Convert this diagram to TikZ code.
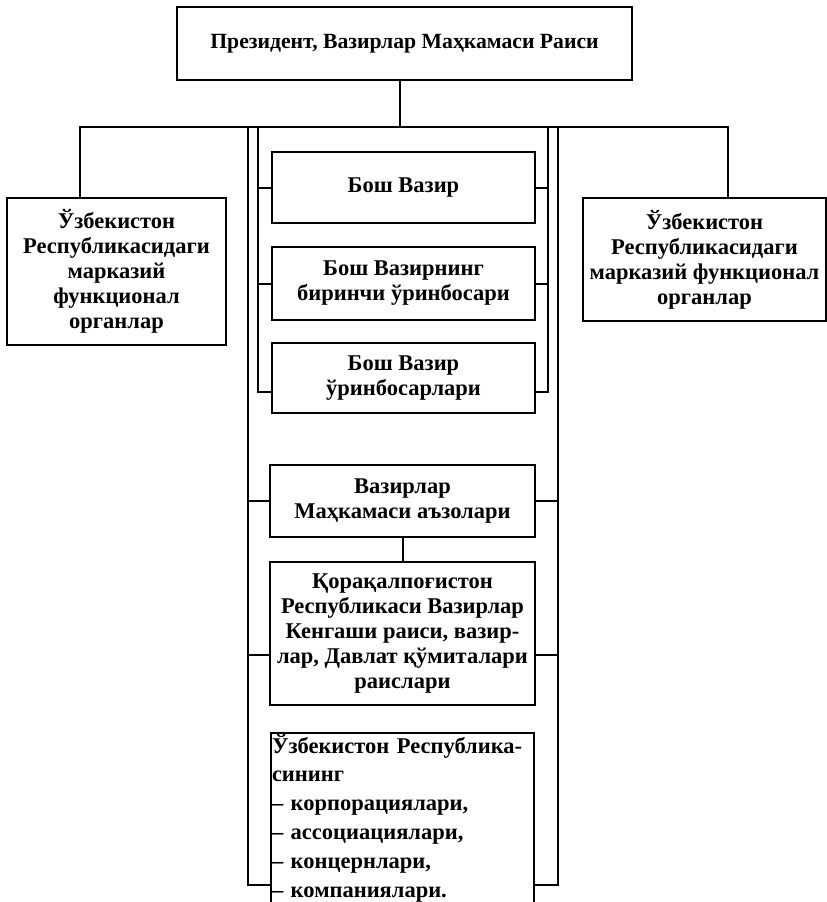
\documentclass[tikz,border=0pt]{standalone}
\usepackage{fontspec}
\setmainfont{Liberation Serif}
\usepackage{tikz}
\usetikzlibrary{positioning,calc}
\newcommand{\orgfont}{\fontsize{22.5}{25}\selectfont\bfseries}
\tikzset{
  orgbox/.style={draw, line width=2pt, align=center, font=\orgfont,
                 inner sep=1.5pt},
  listbox/.style={orgbox, align=left, anchor=north west, inner xsep=1pt,
                  inner ysep=1pt, font=\fontsize{22.5}{28.8}\selectfont\bfseries},
  wire/.style={line width=2pt}
}
\begin{document}
\begin{tikzpicture}[x=1pt, y=-1pt]
    \useasboundingbox (0,0) rectangle (827,902);
    \node[orgbox, minimum width=455pt, minimum height=73pt,
          font=\fontsize{21.7}{25}\selectfont\bfseries] (pres) at (404.5,43.5)
      {Президент, Вазирлар Маҳкамаси Раиси};
    \node[orgbox, minimum width=219pt, minimum height=147pt] (leftorg) at (116.5,271.5)
      {Ўзбекистон\\Республикасидаги\\марказий\\функционал\\органлар};
    \node[orgbox, minimum width=243pt, minimum height=123pt, inner xsep=0pt] (rightorg) at (704.5,259.5)
      {Ўзбекистон\\Республикасидаги\\марказий функционал\\органлар};
    \node[orgbox, minimum width=263pt, minimum height=71pt] (pm) at (403.5,187.5) {Бош Вазир};
    \node[orgbox, minimum width=263pt, minimum height=73pt] (first) at (403.5,283.5)
      {Бош Вазирнинг\\биринчи ўринбосари};
    \node[orgbox, minimum width=263pt, minimum height=70pt] (dep) at (403.5,378)
      {Бош Вазир\\ўринбосарлари};
    \node[orgbox, minimum width=265pt, minimum height=72pt] (mem) at (402.5,501)
      {Вазирлар\\Маҳкамаси аъзолари};
    \node[orgbox, minimum width=265pt, minimum height=143pt] (kk) at (402.5,633.5)
      {Қорақалпоғистон\\Республикаси Вазирлар\\Кенгаши раиси, вазир-\\лар, Давлат қўмиталари\\раислари};
    \node[listbox, text width=261pt, text depth=190pt] (corp) at (270,732)
      {Ўзбекистон Республика-\\сининг\\– корпорациялари,\\– ассоциациялари,\\– концернлари,\\– компаниялари.};
    \coordinate (hub) at (400,127);
    \coordinate (lend) at (80,127);
    \coordinate (rend) at (728,127);
    \coordinate (ol) at (248,127);
    \coordinate (il) at (258,127);
    \coordinate (ir) at (548,127);
    \coordinate (or) at (558,127);
    \draw[wire] (hub |- pres.south) -- (hub);
    \draw[wire] (lend |- leftorg.north) -- (lend) -- (rend) -- (rend |- rightorg.north);
    \draw[wire] (il) |- ([yshift=-14pt]dep.west);
    \draw[wire] (ir) |- ([yshift=-14pt]dep.east);
    \draw[wire] (il |- pm.west) -- (pm.west);
    \draw[wire] (ir |- pm.east) -- (pm.east);
    \draw[wire] (il |- first.west) -- (first.west);
    \draw[wire] (ir |- first.east) -- (first.east);
    \draw[wire] (ol) |- ([yshift=-153pt]corp.north west);
    \draw[wire] (or) |- ([yshift=-153pt]corp.north east);
    \draw[wire] (ol |- mem.west) -- (mem.west);
    \draw[wire] (or |- mem.east) -- (mem.east);
    \draw[wire] (ol |- 0,655) -- (kk.west |- 0,655);
    \draw[wire] (or |- 0,655) -- (kk.east |- 0,655);
    \draw[wire] (mem) -- (kk);
  \end{tikzpicture}
\end{document}
